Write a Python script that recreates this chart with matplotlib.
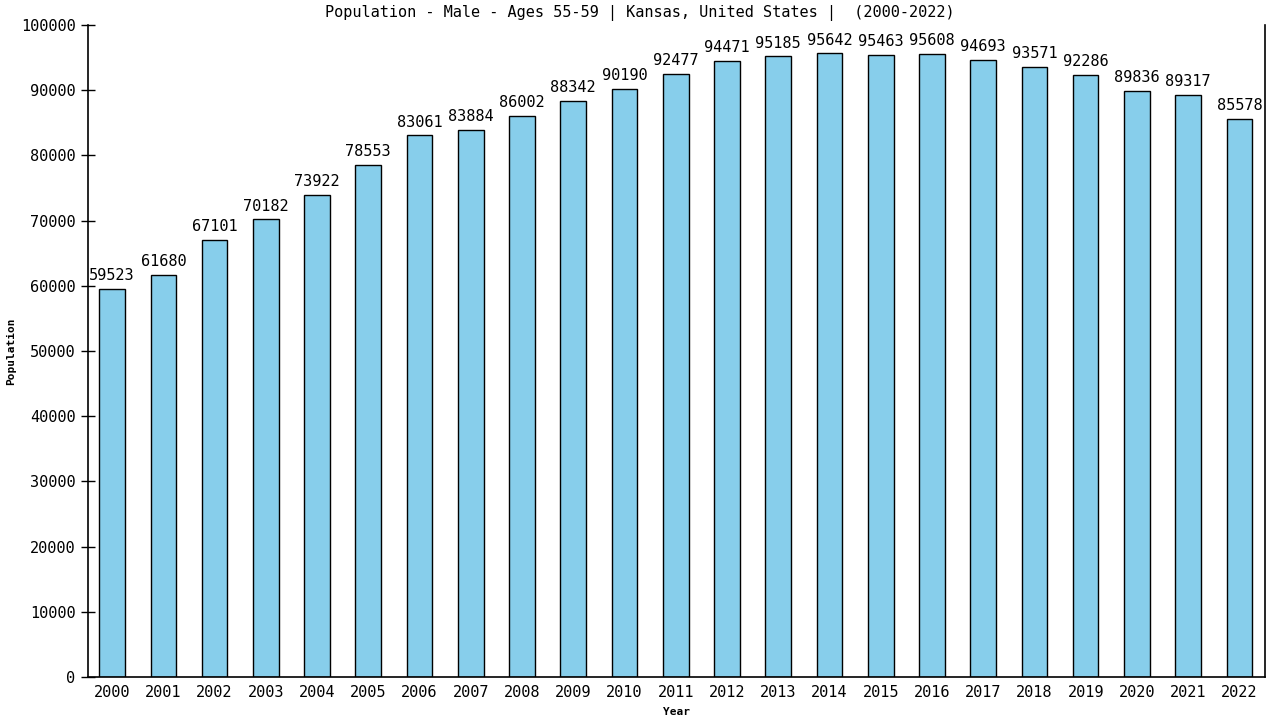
import matplotlib
matplotlib.use("Agg")
import matplotlib.pyplot as plt

years = list(range(2000, 2023))
population = [59523, 61680, 67101, 70182, 73922, 78553, 83061, 83884, 86002, 88342,
              90190, 92477, 94471, 95185, 95642, 95463, 95608, 94693, 93571, 92286,
              89836, 89317, 85578]
yticks = list(range(0, 100001, 10000))

plt.rcParams['font.family'] = ['DejaVu Sans Mono']

fig = plt.figure(figsize=(12.8, 7.2), dpi=100)
ax = fig.add_axes([88 / 1280, 43 / 720, 1177 / 1280, 652 / 720])

x = list(range(len(years)))
ax.bar(x, population, width=0.5, color='#87CEEB', edgecolor='black', linewidth=1.0)
for xi, v in zip(x, population):
    ax.text(xi, v + 900, str(v), ha='center', va='bottom', fontsize=11)

ax.set_xlim(-0.47, 22.5)
ax.set_ylim(0, 100000)
ax.set_xticks(x)
ax.set_xticklabels([str(y) for y in years], fontsize=11)
ax.set_yticks(yticks)
ax.set_yticklabels([str(t) for t in yticks], fontsize=11)
ax.tick_params(axis='y', direction='inout', length=10, width=1, pad=4)
ax.tick_params(axis='x', length=0, pad=6)
ax.spines['top'].set_visible(False)
for s in ['left', 'right', 'bottom']:
    ax.spines[s].set_linewidth(1.2)

ax.set_xlabel('Year', fontsize=8, fontweight='bold', labelpad=5)
ax.set_ylabel('Population', fontsize=8, fontweight='bold', labelpad=3)
fig.text(0.5, 0.982, 'Population - Male - Ages 55-59 | Kansas, United States |  (2000-2022)',
         ha='center', va='center', fontsize=11)

fig.savefig('out.png', dpi=100)
